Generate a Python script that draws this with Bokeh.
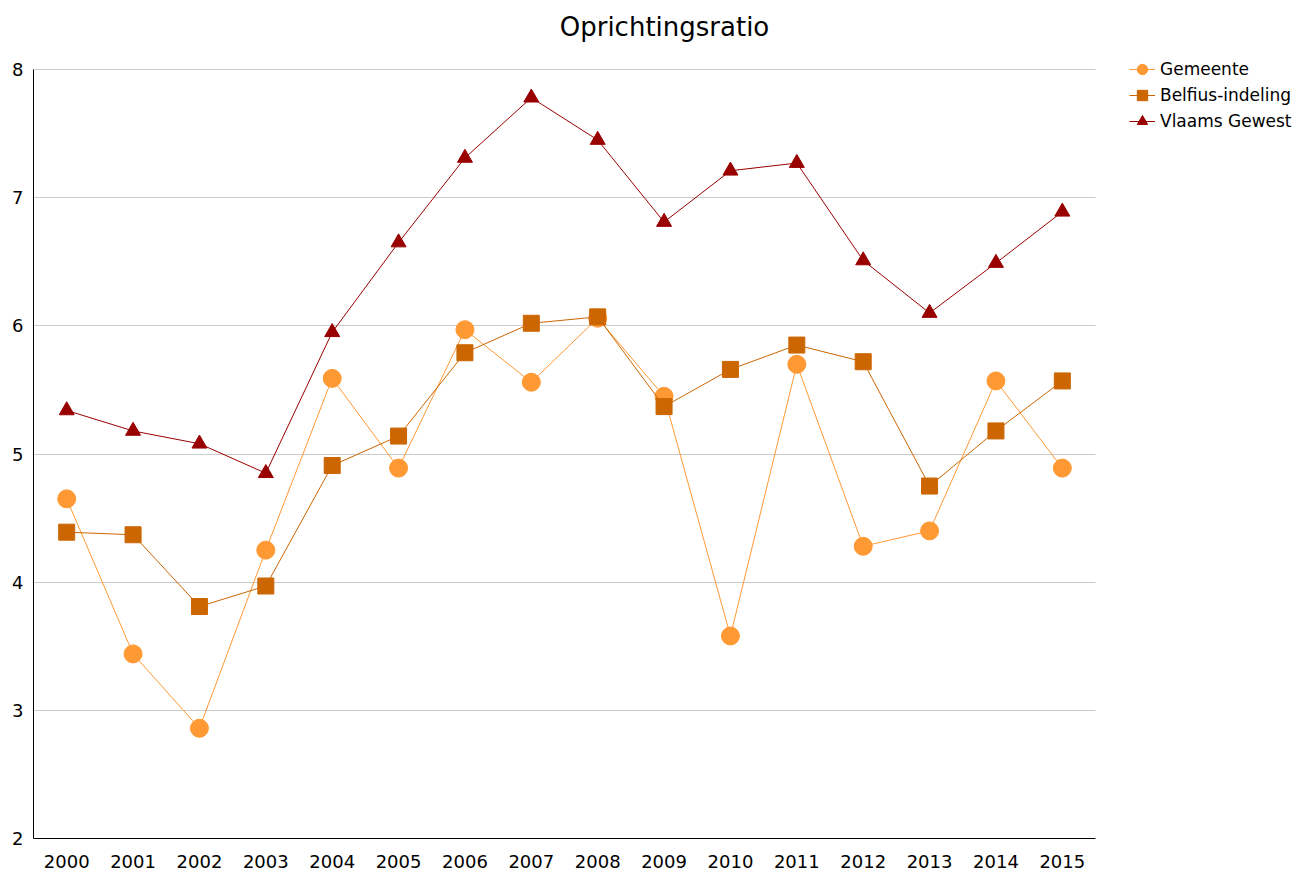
from bokeh.plotting import figure
from bokeh.models import Legend, LegendItem, FixedTicker, Range1d, Label, BoxAnnotation
from bokeh.embed import file_html
from bokeh.resources import INLINE

years = list(range(2000, 2016))
gemeente = [4.65, 3.44, 2.86, 4.25, 5.59, 4.89, 5.97, 5.56, 6.06, 5.45, 3.58, 5.70, 4.28, 4.40, 5.57, 4.89]
belfius = [4.39, 4.37, 3.81, 3.97, 4.91, 5.14, 5.79, 6.02, 6.07, 5.37, 5.66, 5.85, 5.72, 4.75, 5.18, 5.57]
vlaams = [5.34, 5.18, 5.08, 4.85, 5.95, 6.65, 7.31, 7.78, 7.45, 6.81, 7.21, 7.27, 6.51, 6.10, 6.49, 6.89]
series_names = ["Gemeente", "Belfius-indeling", "Vlaams Gewest"]
yticks = [2, 3, 4, 5, 6, 7, 8]
title_text = "Oprichtingsratio"

FONT = "DejaVu Sans"

# Frame spans the whole canvas to the right and top so the legend and title are not clipped;
# the data area (1999.5..2015.5, 2..8) maps to the same pixels as the reference.
W, H = 1300, 872
LEFT, BOTTOM = 33, 34
DATA_RIGHT, DATA_TOP = 1095, 69
frame_w = W - LEFT
frame_h = H - BOTTOM
x0, x1 = years[0] - 0.5, years[-1] + 0.5
y0, y1 = yticks[0], yticks[-1]
x_end = x0 + (x1 - x0) * frame_w / (DATA_RIGHT - LEFT)
y_end = y0 + (y1 - y0) * frame_h / (frame_h - DATA_TOP)

p = figure(width=W, height=H, output_backend="svg", toolbar_location=None,
           x_range=Range1d(x0, x_end), y_range=Range1d(y0, y_end),
           min_border_left=LEFT, min_border_right=0, min_border_top=0, min_border_bottom=BOTTOM)
p.title = None

p.outline_line_color = None
p.background_fill_color = "white"
p.xgrid.grid_line_color = None
p.ygrid.grid_line_color = "#cccccc"
p.ygrid.ticker = FixedTicker(ticks=yticks)

p.yaxis.ticker = FixedTicker(ticks=yticks)
p.xaxis.ticker = FixedTicker(ticks=years)
p.xaxis.bounds = (x0, x1)
p.yaxis.bounds = (y0, y1)
for ax in (p.xaxis, p.yaxis):
    ax.axis_line_color = "#000000"
    ax.axis_line_width = 1
    ax.major_tick_line_color = None
    ax.minor_tick_line_color = None
    ax.major_tick_out = 0
    ax.major_tick_in = 0
    ax.major_label_text_font = FONT
    ax.major_label_text_font_size = "18px"
    ax.major_label_text_color = "#000000"
p.yaxis.major_label_standoff = 10
p.xaxis.major_label_standoff = 16

# hide gridlines to the right of the data area
mask = BoxAnnotation(left=x1, fill_color="white", fill_alpha=1, line_color=None, level="underlay")
p.add_layout(mask)

colors = ["#FF9933", "#CC6600", "#990000"]
markers = ["circle", "square", "triangle"]
sizes = [18, 16, 15]
data = [gemeente, belfius, vlaams]

items = []
for name, vals, c, m, s in zip(series_names, data, colors, markers, sizes):
    l = p.line(years, vals, line_color=c, line_width=1)
    sc = p.scatter(years, vals, marker=m, size=s, fill_color=c, line_color=c)
    items.append(LegendItem(label=name, renderers=[l, sc]))

legend = Legend(items=items, location=(1096, 704), orientation="vertical",
                label_text_font=FONT, label_text_font_size="17px", label_text_color="#000000",
                glyph_width=26, glyph_height=26, label_height=26, label_standoff=5,
                spacing=0, padding=0, margin=0, border_line_color=None,
                background_fill_alpha=0)
p.add_layout(legend, "center")

title = Label(x=631, y=812, x_units="screen", y_units="screen", text=title_text,
              text_font=FONT, text_font_size="26px", text_color="#000000",
              text_align="center", text_baseline="alphabetic")
p.add_layout(title)

open("out.html", "w").write(file_html(p, INLINE))
